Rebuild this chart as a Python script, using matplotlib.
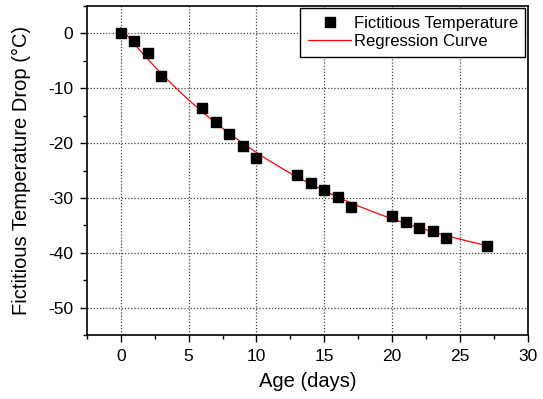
import matplotlib.pyplot as plt
import numpy as np

plt.rcParams['font.family'] = ['Liberation Sans', 'DejaVu Sans']
plt.rcParams['axes.unicode_minus'] = False

# datos
age = [0, 1, 2, 3, 6, 7, 8, 9, 10, 13, 14, 15, 16, 17, 20, 21, 22, 23, 24, 27]
temp_drop = [0, -1.45, -3.5, -7.8, -13.6, -16.1, -18.4, -20.6, -22.7, -25.8,
             -27.3, -28.5, -29.9, -31.6, -33.2, -34.3, -35.4, -36.0, -37.2, -38.8]

# curva de regresion: y = a + b*exp(-x/t), t por busqueda simple
xa = np.array(age, dtype=float)
ya = np.array(temp_drop)
best = None
for t in np.linspace(5, 80, 751):
    A = np.column_stack([np.ones_like(xa), np.exp(-xa / t)])
    sol, res, _, _ = np.linalg.lstsq(A, ya, rcond=None)
    err = np.sum((A @ sol - ya) ** 2)
    if best is None or err < best[0]:
        best = (err, t, sol)
_, t, (a, b) = best
xr = np.linspace(min(age), max(age), 200)
yr = a + b * np.exp(-xr / t)

fig = plt.figure(figsize=(5.43, 3.99), dpi=100)
ax = fig.add_axes([0.160, 0.160, 0.812, 0.825])

ax.plot(age, temp_drop, 's', color='black', markersize=6.5, label='Fictitious Temperature', zorder=3)
ax.plot(xr, yr, '-', color='red', linewidth=0.9, label='Regression Curve', zorder=2)

ax.set_xlim(-2.5, 30)
ax.set_ylim(-55, 5)
ax.set_xticks([0, 5, 10, 15, 20, 25, 30])
ax.set_xticks(np.arange(-2.5, 30.1, 2.5), minor=True)
ax.set_yticks([0, -10, -20, -30, -40, -50])
ax.set_yticks(np.arange(-55, 5.1, 5), minor=True)
ax.tick_params(which='both', direction='out', labelsize=12.5, top=False, right=False, pad=5)
ax.tick_params(which='major', length=5, width=1)
ax.tick_params(which='minor', length=3, width=1)

ax.grid(True, which='major', linestyle=(0, (1, 1.5)), color='#444444', linewidth=0.9)
for s in ax.spines.values():
    s.set_linewidth(1.2)

ax.set_xlabel('Age (days)', fontsize=14.5, labelpad=6)
ax.set_ylabel('Fictitious Temperature Drop (°C)', fontsize=14.5, labelpad=12)

leg = ax.legend(loc='upper right', fontsize=12, frameon=True, fancybox=False,
                edgecolor='black', framealpha=1, borderpad=0.45, labelspacing=0.2,
                handlelength=2.6, handletextpad=0.15, borderaxespad=0.15)
leg.get_frame().set_linewidth(1)

fig.savefig('out.png', dpi=100)
